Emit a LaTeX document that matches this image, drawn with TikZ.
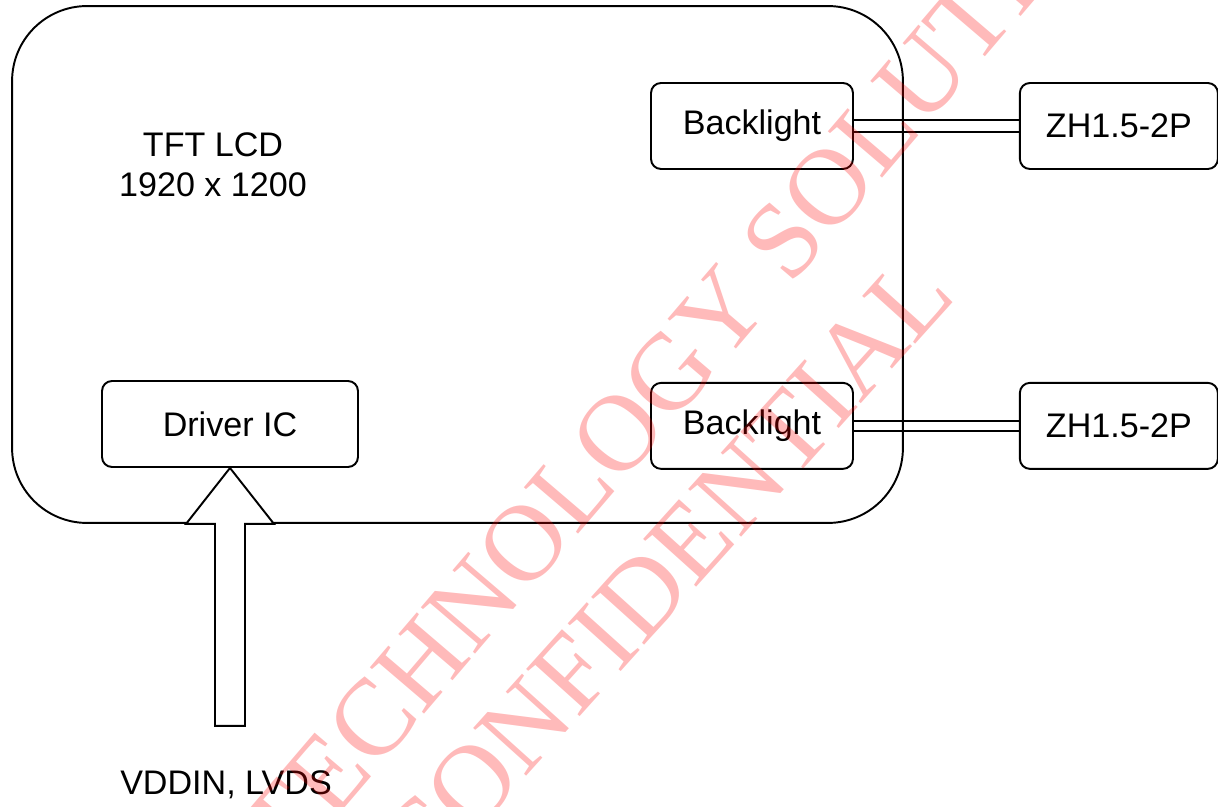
\documentclass[tikz,border=0pt]{standalone}
\usepackage{fontspec}
\setmainfont{Liberation Sans}
\newfontfamily\stampfont{Liberation Serif}
\usetikzlibrary{positioning, calc, backgrounds}
\tikzset{
  font=\fontsize{19.4}{22.8}\selectfont,
  partblock/.style={
    rectangle, rounded corners=0.2cm, draw=black, line width=1.1pt,
    fill=white, minimum height=1.72cm, inner sep=0pt, align=center
  },
  panelframe/.style={
    rectangle, rounded corners=1.5cm, draw=black, line width=1.1pt,
    minimum width=17.82cm, minimum height=10.34cm
  },
  pairline/.style={
    draw=black, line width=1pt, double=white, double distance=0.2cm
  },
  blockarrow/.style={
    draw=black, line width=1.1pt, fill=white, line join=miter
  },
  stamptext/.style={
    font=\stampfont\fontsize{62}{62}\selectfont, text=red, opacity=0.27,
    rotate=48, anchor=west, inner sep=0pt
  }
}
\begin{document}
\begin{tikzpicture}[x=0.02cm, y=-0.02cm]
  \useasboundingbox (0,0) rectangle (1218,807);

  % panel
  \node[panelframe] (lcd) at (457.5,264.5) {};
  \node[align=center] (title) at (213,165) {TFT LCD\\1920 x 1200};

  % backlight side
  \node[partblock, minimum width=4.04cm] (blight1) at (752,126) {Backlight};
  \node[partblock, minimum width=3.96cm, right=3.3cm of blight1] (zh1) {ZH1.5-2P};
  \node[partblock, minimum width=4.04cm, below=4.24cm of blight1] (blight2) {Backlight};
  \node[partblock, minimum width=3.96cm, right=3.3cm of blight2] (zh2) {ZH1.5-2P};

  % driver side
  \node[partblock, minimum width=5.12cm] (drv) at (230,424) {Driver IC};
  \node (sig) at (226,785) {VDDIN, LVDS};

  \begin{scope}[on background layer]
    \draw[pairline] (blight1) -- (zh1);
    \draw[pairline, double distance=0.17cm] (blight2) -- (zh2);
  \end{scope}

  \draw[blockarrow] (drv.south) -- ++(44,56) -- ++(-29,0) -- ++(0,202)
    -- ++(-30,0) -- ++(0,-202) -- ++(-29,0) -- cycle;

  % watermark
  \begin{scope}
    \clip (0,0) rectangle (1218,807);
    \node[stamptext, rotate=1.5] (stamp1) at (262,850) {TECHNOLOGY SOLUTIONS};
    \node[stamptext] (stamp2) at (397,867) {CONFIDENTIAL};
  \end{scope}
\end{tikzpicture}
\end{document}
